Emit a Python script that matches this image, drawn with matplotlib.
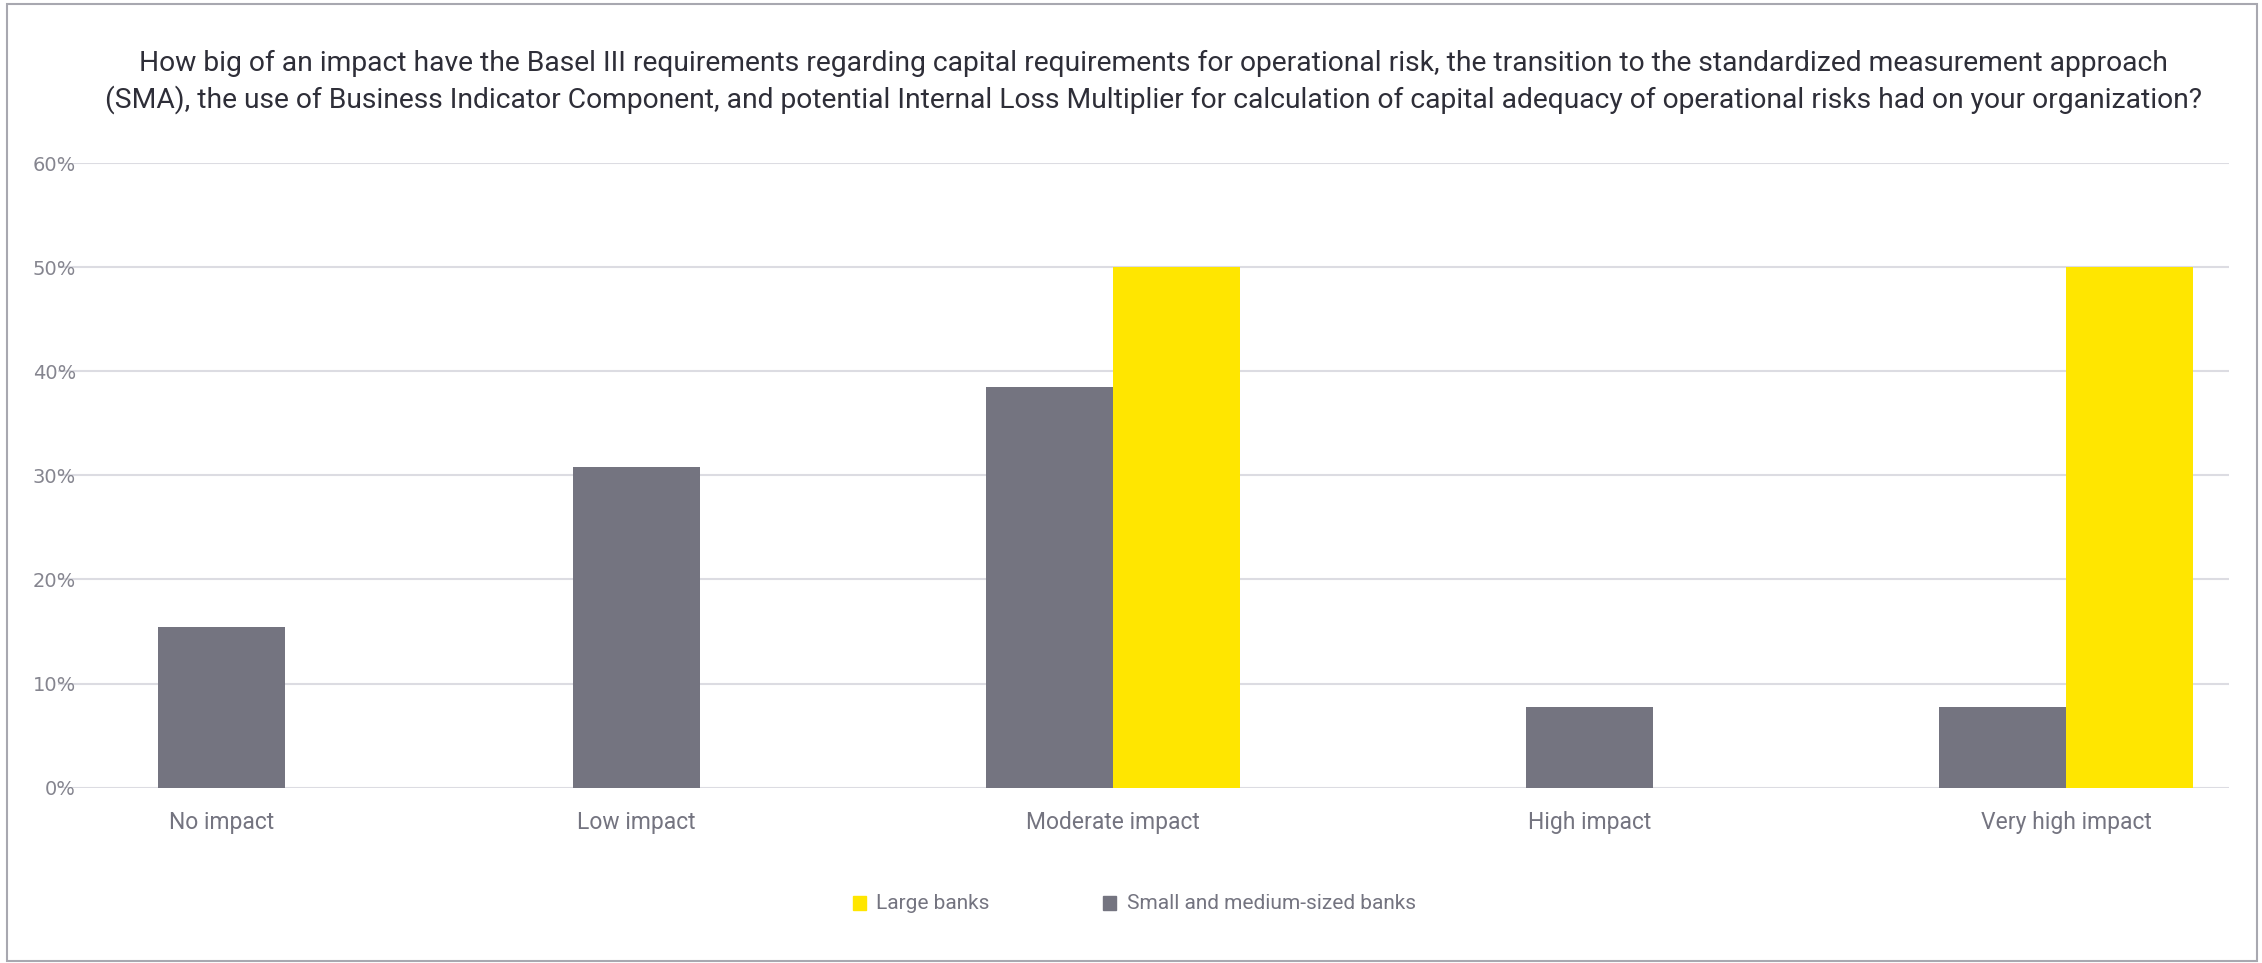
import matplotlib.pyplot as plt
import numpy as np
from matplotlib.patches import Rectangle

categories = ['No impact', 'Low impact', 'Moderate impact', 'High impact', 'Very high impact']
large_banks = [0, 0, 50, 0, 50]
small_medium_banks = [15.4, 30.8, 38.5, 7.7, 7.7]
positions = [0.13, 1, 2, 3, 4]
y_ticks = [0, 10, 20, 30, 40, 50, 60]

title = ('How big of an impact have the Basel III requirements regarding capital requirements for operational risk, the transition to the standardized measurement approach\n'
         '(SMA), the use of Business Indicator Component, and potential Internal Loss Multiplier for calculation of capital adequacy of operational risks had on your organization?')

yellow = '#FFE600'
grey = '#747480'
narrow = ['Roboto', 'DejaVu Sans']

fig = plt.figure(figsize=(22.62, 9.63), dpi=100)
ax = fig.add_axes([0.0256, 0.1821, 0.9598, 0.6486])

w = 0.2665
for x, s, l in zip(positions, small_medium_banks, large_banks):
    if l > 0:
        ax.bar(x - w / 2, s, width=w, color=grey, zorder=3)
        ax.bar(x + w / 2, l, width=w, color=yellow, zorder=3)
    else:
        ax.bar(x, s, width=w, color=grey, zorder=3)

ax.set_xlim(-0.214, 4.342)
ax.set_ylim(0, 60)
ax.set_yticks(y_ticks)
ax.set_yticklabels([f'{t}%' for t in y_ticks], color='#85858f', fontsize=14, family='DejaVu Sans')
ax.set_xticks(positions)
ax.set_xticklabels(categories, color=grey, fontsize=16.5, family=narrow)
ax.tick_params(length=0)
ax.tick_params(axis='y', pad=-13)
ax.tick_params(axis='x', pad=17)
ax.grid(axis='y', color='#dcdce2', linewidth=1.5, zorder=0)
for sp in ax.spines.values():
    sp.set_visible(False)

fig.text(0.51, 0.915, title, ha='center', va='center', fontsize=20.3,
         color='#2e2e38', family=narrow, linespacing=1.38)

# legend drawn by hand: coloured squares followed by labels
fig.patches.append(Rectangle((853 / 2262, 1 - 910 / 963), 13 / 2262, 14 / 963,
                             transform=fig.transFigure, color=yellow))
fig.text(876 / 2262, 1 - 903 / 963, 'Large banks', ha='left', va='center',
         fontsize=15, color=grey, family=narrow)
fig.patches.append(Rectangle((1103 / 2262, 1 - 910 / 963), 13 / 2262, 14 / 963,
                             transform=fig.transFigure, color=grey))
fig.text(1127 / 2262, 1 - 903 / 963, 'Small and medium-sized banks', ha='left', va='center',
         fontsize=15, color=grey, family=narrow)

# outer frame
fig.patches.append(Rectangle((0.003, 0.002), 0.995, 0.994, transform=fig.transFigure,
                             fill=False, edgecolor='#a8a8b0', linewidth=1.5))

plt.savefig('out.png', dpi=100)
